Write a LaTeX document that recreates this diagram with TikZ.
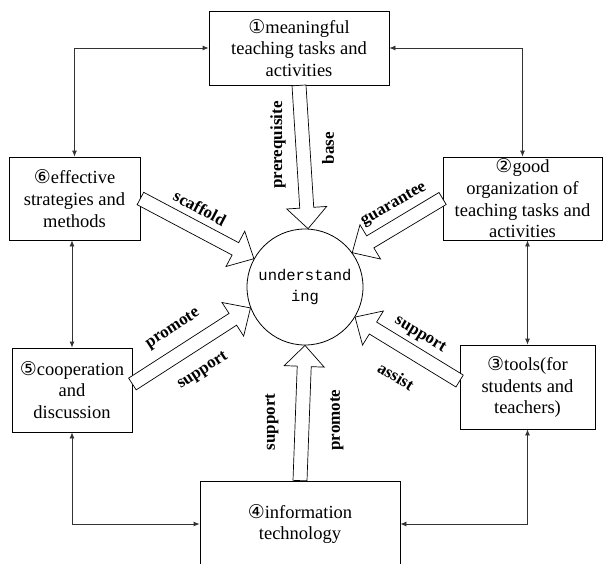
\documentclass[tikz,border=0pt]{standalone}
\usepackage{fontspec}
\setmainfont{Liberation Serif}
\setmonofont{Liberation Mono}
\newfontfamily\circfont{DejaVu Sans}
\usetikzlibrary{arrows.meta, calc}

\newcommand{\cnum}[1]{{\circfont\fontsize{19}{19}\selectfont #1}}
% hollow block arrow from #1 to #2
\newcommand{\hollowarrow}[2]{%
  \coordinate (ha) at (#1);
  \coordinate (hb) at (#2);
  \coordinate (hh) at ($(hb)!21pt!(ha)$);
  \draw[line width=0.7pt, fill=white, line join=miter]
    ($(ha)!7pt!90:(hb)$) -- ($(hh)!7pt!90:(hb)$) -- ($(hh)!20pt!90:(hb)$) -- (hb)
    -- ($(hh)!20pt!-90:(hb)$) -- ($(hh)!7pt!-90:(hb)$) -- ($(ha)!7pt!-90:(hb)$) -- cycle;
}

\begin{document}
\begin{tikzpicture}[x=1pt, y=-1pt,
    box/.style={draw, line width=0.8pt, align=center, inner sep=0pt,
      font=\fontsize{18.5}{21.7}\selectfont},
    lbl/.style={font=\bfseries\fontsize{17}{20}\selectfont, inner sep=0pt},
    link/.style={line width=0.8pt, draw=black!80,
      {Latex[length=6pt,width=5pt]}-{Latex[length=6pt,width=5pt]}}]
  \useasboundingbox (0,0) rectangle (603,563);
  \clip (0,0) rectangle (603,563);

  % the six parts
  \node[box, minimum width=180pt, minimum height=74pt] (b1) at (299,48)
    {\cnum{①}meaningful\\teaching tasks and\\activities};
  \node[box, minimum width=159pt, minimum height=83pt] (b2) at (522.5,198.5)
    {\cnum{②}good\\organization of\\teaching tasks and\\activities};
  \node[box, minimum width=135pt, minimum height=84pt] (b3) at (527.5,387)
    {\cnum{③}tools(for\\students and\\teachers)};
  \node[box, minimum width=200pt, minimum height=86pt] (b4) at (300,524)
    {\cnum{④}information\\technology};
  \node[box, minimum width=120pt, minimum height=84pt] (b5) at (72,390)
    {\cnum{⑤}cooperation\\and\\discussion};
  \node[box, minimum width=131pt, minimum height=83pt] (b6) at (74.5,198.5)
    {\cnum{⑥}effective\\strategies and\\methods};

  % centre
  \node[circle, draw, line width=0.8pt, minimum size=116pt, inner sep=0pt, align=center,
    font=\ttfamily\fontsize{15.5}{21}\selectfont] (und) at (305,287) {understand\\ing};

  % ring of links
  \draw[link] (b1.west) -| (b6.north);
  \draw[link] (b5.north |- b6.south) -- (b5.north);
  \draw[link] (b5.south) |- (b4.west);
  \draw[link] (b4.east) -| (b3.south);
  \draw[link] (b3.north) -- (b3.north |- b2.south);
  \draw[link] (b1.east) -| (b2.north);

  % block arrows into the centre
  \coordinate (t5) at ($(b5.east)+(0,-6)$);
  \coordinate (t3) at ($(b3.west)+(0,-6)$);
  \hollowarrow{b1.south}{und.87}
  \hollowarrow{b6.east}{und.151}
  \hollowarrow{t5}{und.201}
  \hollowarrow{b4.north}{und.270}
  \hollowarrow{t3}{und.329}
  \hollowarrow{b2.west}{und.36}

  % labels
  \node[lbl, rotate=90] (l1a) at (278,145) {prerequisite};
  \node[lbl, rotate=90] (l1b) at (328,148) {base};
  \node[lbl, rotate=-28] (l6) at (200,208) {scaffold};
  \node[lbl, rotate=30] (l2) at (394,205) {guarantee};
  \node[lbl, rotate=33] (l5a) at (173,329) {promote};
  \node[lbl, rotate=33] (l5b) at (203,371) {support};
  \node[lbl, rotate=90] (l4a) at (272,422) {support};
  \node[lbl, rotate=90] (l4b) at (337,420) {promote};
  \node[lbl, rotate=-31] (l3a) at (420,335) {support};
  \node[lbl, rotate=-31] (l3b) at (396,376) {assist};
\end{tikzpicture}
\end{document}
